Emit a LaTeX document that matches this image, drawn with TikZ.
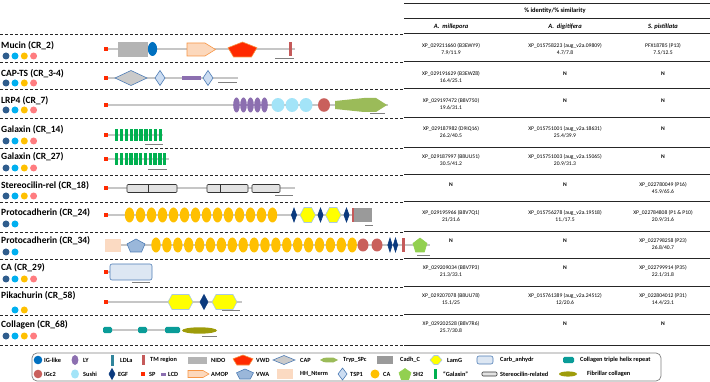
\documentclass[tikz,border=0pt]{standalone}
\usepackage{fontspec}
\setmainfont{Carlito}
\definecolor{bbgray}{HTML}{C6C6C6}
\definecolor{scgray}{HTML}{7F7F7F}
\definecolor{igblue}{HTML}{0070C0}
\definecolor{igcred}{HTML}{C9605C}
\definecolor{lypurple}{HTML}{8C6FB0}
\definecolor{sushicyan}{HTML}{A3E4F8}
\definecolor{ldlteal}{HTML}{31859C}
\definecolor{egfnavy}{HTML}{0B3A7E}
\definecolor{tmred}{HTML}{C55A5A}
\definecolor{spred}{HTML}{FF2A00}
\definecolor{nidogray}{HTML}{B4B4B4}
\definecolor{amopfill}{HTML}{FCD8BC}
\definecolor{amopdraw}{HTML}{F79646}
\definecolor{vwdred}{HTML}{FF2A00}
\definecolor{vwafill}{HTML}{9AB7DA}
\definecolor{shapeblue}{HTML}{4F7DB5}
\definecolor{capgray}{HTML}{CACACA}
\definecolor{hhpeach}{HTML}{FBDAC2}
\definecolor{trypgreen}{HTML}{9BBB59}
\definecolor{tspfill}{HTML}{CCDDF2}
\definecolor{cadhgray}{HTML}{9A9A9A}
\definecolor{cagold}{HTML}{FFC000}
\definecolor{lamgyellow}{HTML}{FFFF00}
\definecolor{lamgdraw}{HTML}{A9C8E4}
\definecolor{sh2green}{HTML}{92D050}
\definecolor{carbfill}{HTML}{DDE7F3}
\definecolor{galgreen}{HTML}{00B050}
\definecolor{stergray}{HTML}{E2E2E2}
\definecolor{colteal}{HTML}{0A9C98}
\definecolor{fibolive}{HTML}{9E9C0A}
\definecolor{dblue}{HTML}{2F5D8D}
\definecolor{lblue}{HTML}{00B0F0}
\definecolor{dgold}{HTML}{FFC000}
\definecolor{dsalmon}{HTML}{FF7C80}
\definecolor{boxgray}{HTML}{7F7F7F}
\tikzstyle{bb}=[draw=bbgray,line width=1.3pt]
\tikzstyle{sbar}=[draw=scgray,line width=1pt]
\tikzstyle{dline}=[draw=black!85,line width=0.9pt,dash pattern=on 3pt off 2pt]
\tikzstyle{tline}=[draw=black!85,line width=1pt]
\tikzstyle{lab}=[anchor=west,inner sep=0pt,font=\fontsize{9.5}{11}\selectfont\bfseries]
\tikzstyle{cell}=[align=center,inner sep=0pt,font=\fontsize{5.6}{7}\selectfont]
\tikzstyle{hd}=[inner sep=0pt,font=\fontsize{6.5}{8}\selectfont\bfseries]
\tikzstyle{hi}=[inner sep=0pt,font=\fontsize{6.5}{8}\selectfont\bfseries\itshape]
\tikzstyle{leg}=[anchor=west,inner sep=0pt,font=\fontsize{6.3}{7}\selectfont\bfseries]
\tikzstyle{egf}=[fill=egfnavy,draw=egfnavy]
\tikzstyle{tsp}=[fill=tspfill,draw=shapeblue]
\tikzstyle{capd}=[fill=capgray,draw=shapeblue]
\tikzstyle{vwd}=[fill=vwdred,draw=amopdraw]
\tikzstyle{vwa}=[fill=vwafill,draw=shapeblue]
\tikzstyle{sh2}=[fill=sh2green,draw=sh2green]
\tikzstyle{amop}=[fill=amopfill,draw=amopdraw,line width=0.6pt]
\tikzstyle{carb}=[fill=carbfill,draw=shapeblue,line width=0.6pt,rounded corners=2pt]
\tikzstyle{ster}=[fill=stergray,draw=black!80,line width=0.6pt,rounded corners=1pt]
\newcommand{\spsq}[2]{\fill[spred] (#1-2.2,#2-2.2) rectangle (#1+2.2,#2+2.2);}
\newcommand{\dmd}[5]{\filldraw[line width=0.6pt,#1] (#2-#4,#3) -- (#2,#3-#5) -- (#2+#4,#3) -- (#2,#3+#5) -- cycle;}
\newcommand{\hexa}[4]{\filldraw[line width=0.6pt,fill=lamgyellow,draw=lamgdraw] (#1,#3) -- (#1+4,#3-#4) -- (#2-4,#3-#4) -- (#2,#3) -- (#2-4,#3+#4) -- (#1+4,#3+#4) -- cycle;}
\newcommand{\pent}[5]{\filldraw[line width=0.6pt,#1] (#2,#3-#5) -- (#2+#4,#3-0.236*#5) -- (#2+0.618*#4,#3+#5) -- (#2-0.618*#4,#3+#5) -- (#2-#4,#3-0.236*#5) -- cycle;}
\newcommand{\colh}[3]{\fill[colteal,rounded corners=1.5pt] (#1,#3-3.2) rectangle (#2,#3+3.2);}

\begin{document}
\begin{tikzpicture}[x=1pt,y=-1pt]
\useasboundingbox (0,0) rectangle (710,382);
% table head
\draw[tline,line width=0.8pt] (404,3) -- (710,3);
\node[hd] (hid) at (555,11) {\% identity/\% similarity};
\draw[tline,line width=0.8pt] (404,18) -- (710,18);
\node[hi] (hmil) at (451,27) {A.\ \ millepora};
\node[hi] (hdig) at (565,27) {A.\ \ digitifera};
\node[hi] (hpis) at (663,27) {S.\ pistillata};
\foreach \y in {34,62,89,118,148,175,202,232,259,287,315,345} {
  \draw[dline] (0,\y) -- (404,\y);
  \draw[tline] (404,\y) -- (710,\y);
}
% row labels
\node[lab] (lab1) at (1,46) {Mucin (CR\_2)};
\node[lab] (lab2) at (1,74) {CAP-TS (CR\_3-4)};
\node[lab] (lab3) at (1,101) {LRP4 (CR\_7)};
\node[lab] (lab4) at (1,130) {Galaxin (CR\_14)};
\node[lab] (lab5) at (1,157) {Galaxin (CR\_27)};
\node[lab] (lab6) at (1,186) {Stereocilin-rel (CR\_18)};
\node[lab] (lab7) at (1,213) {Protocadherin (CR\_24)};
\node[lab] (lab8) at (1,241) {Protocadherin (CR\_34)};
\node[lab] (lab9) at (1,268) {CA (CR\_29)};
\node[lab] (lab10) at (1,296) {Pikachurin (CR\_58)};
\node[lab] (lab11) at (1,325) {Collagen (CR\_68)};
\foreach \y in {56,83,110,141,168,196,279,336} {
  \fill[dblue] (6,\y) circle[radius=3.5];
  \fill[lblue] (15,\y) circle[radius=3.5];
  \fill[dgold] (24.3,\y) circle[radius=3.5];
  \fill[dsalmon] (33.6,\y) circle[radius=3.5];
}
\foreach \y in {224,252} {
  \fill[dblue] (6,\y) circle[radius=3.5];
  \fill[lblue] (15,\y) circle[radius=3.5];
}
\fill[lblue] (15,310) circle[radius=3.5];
\fill[dgold] (24.3,310) circle[radius=3.5];
% Mucin
\draw[bb] (108,49) -- (295,49);
\spsq{106}{49}
\fill[nidogray] (118,42) rectangle (148,57);
\fill[igblue] (152.5,49) ellipse[x radius=4.6,y radius=7];
\filldraw[amop] (187,43) -- (205,43) -- (215.5,49.5) -- (205,56) -- (187,56) -- cycle;
\pent{vwd}{242.5}{49.5}{14.5}{7.5}
\fill[tmred] (288.8,42) rectangle (291.6,56);
\draw[sbar] (275,59) -- (294,59);
% CAP-TS
\draw[bb] (108,78) -- (238,78);
\spsq{106}{78}
\dmd{capd}{131}{78}{16}{7.5}
\dmd{tsp}{160}{78}{5}{7.5}
\fill[lypurple] (182,76.3) rectangle (201,80);
\dmd{tsp}{208}{78}{5}{7.5}
\draw[sbar] (218,82.5) -- (237,82.5);
% LRP4
\draw[bb] (108,105) -- (388,105);
\spsq{106}{105}
\foreach \x in {236.5,243.5,250.5,257.5,264.5}
  \fill[lypurple] (\x,105) ellipse[x radius=3.3,y radius=7.5];
\foreach \x in {278,292,306}
  \fill[sushicyan] (\x,105) ellipse[x radius=6.5,y radius=7];
\fill[igcred] (324,105) ellipse[x radius=6,y radius=6.8];
\fill[trypgreen] (335,101) -- (364,98) -- (376,98) -- (387,105) -- (376,112) -- (364,112) -- (335,109) -- cycle;
\draw[sbar] (370,113.5) -- (385,113.5);
% Galaxin CR_14
\draw[bb] (108,135) -- (163,135);
\spsq{106}{135}
\foreach \i in {0,...,9}
  \fill[galgreen] (115+4.85*\i,129) rectangle ++(3.4,12);
\draw[sbar] (145,144.5) -- (163,144.5);
% Galaxin CR_27
\draw[bb] (108,159) -- (169,159);
\spsq{106}{159}
\foreach \i in {0,...,10}
  \fill[galgreen] (115+4.8*\i,153) rectangle ++(3.4,12);
\draw[sbar] (148,170) -- (167,170);
% Stereocilin-rel
\draw[bb] (108,188) -- (295,188);
\spsq{106}{188}
\filldraw[ster] (127,184.5) rectangle (177,192.5);
\draw[black!80,line width=0.6pt] (148,184.5) -- (148,192.5);
\filldraw[ster] (207,184.5) rectangle (248,192.5);
\draw[black!80,line width=0.6pt] (220,184.5) -- (220,192.5);
\filldraw[ster] (252,184.5) rectangle (280,192.5);
\draw[sbar] (275,196) -- (293,196);
% Protocadherin CR_24
\draw[bb] (108,215) -- (352,215);
\spsq{106}{215}
\foreach \i in {0,...,13}
  \fill[cagold] (129.5+11*\i,215) ellipse[x radius=4.7,y radius=7.5];
\dmd{egf}{294}{215}{2.6}{7}
\hexa{300}{315.5}{215}{7.5}
\dmd{egf}{320.5}{215}{2.6}{7}
\hexa{325.5}{341}{215}{7.5}
\dmd{egf}{346.5}{215}{2.6}{7}
\fill[tmred] (351.5,208) rectangle (354,222);
\fill[cadhgray] (354,208) rectangle (372,222);
\draw[sbar] (365,225.5) -- (373,225.5);
% Protocadherin CR_34
\draw[bb] (105,245) -- (430,245);
\fill[hhpeach] (105,239) rectangle (121,252);
\pent{vwa}{136}{245.5}{9}{6.5}
\foreach \i in {0,...,18}
  \fill[cagold] (156+10.9*\i,245) ellipse[x radius=4.7,y radius=7.5];
\fill[igcred] (363,245) ellipse[x radius=5.5,y radius=6.5];
\fill[igcred] (377,245) ellipse[x radius=5.5,y radius=6.5];
\dmd{egf}{390}{245}{2.2}{7}
\dmd{egf}{395.5}{245}{2.2}{7}
\fill[tmred] (402,238) rectangle (404.5,252);
\pent{sh2}{420}{245}{7}{7}
\draw[sbar] (417,256) -- (430,256);
% CA
\draw[bb] (108,272) -- (110,272);
\spsq{106}{272}
\filldraw[carb] (110,264) rectangle (152,280);
\draw[sbar] (132,283) -- (150,283);
% Pikachurin
\draw[bb] (108,302) -- (242,302);
\spsq{106}{302}
\hexa{168}{193}{302}{7.5}
\dmd{egf}{204}{302}{4}{7.5}
\hexa{212}{237}{302}{7.5}
\draw[sbar] (222,311) -- (240,311);
% Collagen
\draw[bb] (103,330) -- (180,330);
\colh{103}{112}{330}
\colh{138}{147}{330}
\colh{165}{180}{330}
\fill[fibolive] (199.5,330.5) ellipse[x radius=17.5,y radius=3.2];
\draw[sbar] (202,336.5) -- (217,336.5);
% table cells
\node[cell] (m1) at (451,49.5) {XP\_029211660 (B3EWY9)\\7.9/11.9};
\node[cell] (d1) at (565,49.5) {XP\_015758223 (aug\_v2a.09809)\\4.7/7.8};
\node[cell] (s1) at (663,49.5) {PFX18785 (P13)\\7.5/12.5};
\node[cell] (m2) at (451,77.5) {XP\_029191629 (B3EWZ8)\\16.4/25.1};
\node[cell] (d2) at (565,74) {\textbf{N}};
\node[cell] (s2) at (663,74) {\textbf{N}};
\node[cell] (m3) at (451,104.5) {XP\_029197472 (B8V750)\\19.6/31.1};
\node[cell] (d3) at (565,101) {\textbf{N}};
\node[cell] (s3) at (663,101) {\textbf{N}};
\node[cell] (m4) at (451,132.5) {XP\_029187982 (D9IQ16)\\26.2/40.5};
\node[cell] (d4) at (565,132.5) {XP\_015751001 (aug\_v2a.18631)\\25.4/39.9};
\node[cell] (s4) at (663,129) {\textbf{N}};
\node[cell] (m5) at (451,160.5) {XP\_029187997 (B8UU51)\\30.5/41.2};
\node[cell] (d5) at (565,160.5) {XP\_015751003 (aug\_v2a.15065)\\20.9/31.3};
\node[cell] (s5) at (663,157) {\textbf{N}};
\node[cell] (m6) at (451,185) {\textbf{N}};
\node[cell] (d6) at (565,185) {\textbf{N}};
\node[cell] (s6) at (663,188.5) {XP\_022780049 (P16)\\45.9/65.6};
\node[cell] (m7) at (451,216.5) {XP\_029195966 (B8V7Q1)\\21/31.6};
\node[cell] (d7) at (565,216.5) {XP\_015756278 (aug\_v2a.19518)\\11./17.5};
\node[cell] (s7) at (663,216.5) {XP\_022784808 (P1 \& P10)\\20.9/31.6};
\node[cell] (m8) at (451,241) {\textbf{N}};
\node[cell] (d8) at (565,241) {\textbf{N}};
\node[cell] (s8) at (663,244.5) {XP\_022798258 (P23)\\26.8/40.7};
\node[cell] (m9) at (451,271.5) {XP\_029209034 (B8V7P3)\\21.3/33.1};
\node[cell] (d9) at (565,268) {\textbf{N}};
\node[cell] (s9) at (663,271.5) {XP\_022799914 (P35)\\22.1/31.8};
\node[cell] (m10) at (451,299.5) {XP\_029207078 (B8UU78)\\15.1/25};
\node[cell] (d10) at (565,299.5) {XP\_015761389 (aug\_v2a.24512)\\12/20.6};
\node[cell] (s10) at (663,299.5) {XP\_022804012 (P31)\\14.4/23.1};
\node[cell] (m11) at (451,327.5) {XP\_029202528 (B8V7R6)\\25.7/30.8};
\node[cell] (d11) at (565,324) {\textbf{N}};
\node[cell] (s11) at (663,324) {\textbf{N}};
% legend
\draw[boxgray,line width=0.7pt,rounded corners=5pt] (32,353) rectangle (661,381);
\fill[igblue] (38,360) circle[radius=4.3];
\node[leg] (lg1) at (44,360) {IG-like};
\fill[lypurple] (75,360) ellipse[x radius=3.4,y radius=5];
\node[leg] (lg2) at (83,360) {LY};
\fill[ldlteal] (110.5,354.5) rectangle (114,365.5);
\node[leg] (lg3) at (120,360) {LDLa};
\fill[tmred] (142,355) rectangle (144.5,365);
\node[leg] (lg4) at (150,360) {TM region};
\fill[nidogray] (188,356.5) rectangle (207,363.5);
\node[leg] (lg5) at (211,360) {NIDO};
\pent{vwd}{243}{360}{10}{5}
\node[leg] (lg6) at (256,360) {VWD};
\dmd{capd}{284}{360}{11}{4.5}
\node[leg] (lg7) at (300,360) {CAP};
\fill[trypgreen] (320,360) -- (324,357.8) -- (333,357.5) -- (338,360) -- (333,362.5) -- (324,362.2) -- cycle;
\node[leg] (lg8) at (343,360) {Tryp\_SPc};
\fill[cadhgray] (377,356) rectangle (393,364);
\node[leg] (lg9) at (400,360) {Cadh\_C};
\hexa{430}{442}{360}{4.5}
\node[leg] (lg10) at (447,360) {LamG};
\filldraw[carb] (477,356) rectangle (493,364);
\node[leg] (lg11) at (500,360) {Carb\_anhydr};
\colh{563}{574}{360}
\node[leg] (lg12) at (580,360) {Collagen triple helix repeat};
\fill[igcred] (38,374) circle[radius=4.3];
\node[leg] (lg13) at (44,374) {IGc2};
\fill[sushicyan] (75,374) ellipse[x radius=4,y radius=4.6];
\node[leg] (lg14) at (83,374) {Sushi};
\dmd{egf}{112}{374}{3}{5.5}
\node[leg] (lg15) at (118,374) {EGF};
\fill[spred] (141,372) rectangle (145,376);
\node[leg] (lg16) at (149,374) {SP};
\fill[lypurple] (160.5,372.5) rectangle (165.5,375.5);
\node[leg] (lg17) at (168,374) {LCD};
\filldraw[amop] (188,370.5) -- (203,370.5) -- (209,374) -- (203,377.5) -- (188,377.5) -- cycle;
\node[leg] (lg18) at (211,374) {AMOP};
\pent{vwa}{245}{374}{8.5}{5}
\node[leg] (lg19) at (256,374) {VWA};
\fill[hhpeach] (277,369) rectangle (293,379);
\node[leg] (lg20) at (300,374) {HH\_Nterm};
\dmd{tsp}{342.5}{374}{4.5}{6}
\node[leg] (lg21) at (350,374) {TSP1};
\fill[cagold] (375,374) circle[radius=4.5];
\node[leg] (lg22) at (383,374) {CA};
\pent{sh2}{405}{374}{6}{5.5}
\node[leg] (lg23) at (413,374) {SH2};
\fill[galgreen] (434,369) rectangle (437,379);
\node[leg] (lg24) at (443,374) {“Galaxin”};
\filldraw[ster] (482,372) rectangle (497,376);
\node[leg] (lg25) at (500,374) {Stereocilin-related};
\fill[fibolive] (568,374) ellipse[x radius=9,y radius=2.6];
\node[leg] (lg26) at (587,374) {Fibrillar collagen};
\end{tikzpicture}
\end{document}
